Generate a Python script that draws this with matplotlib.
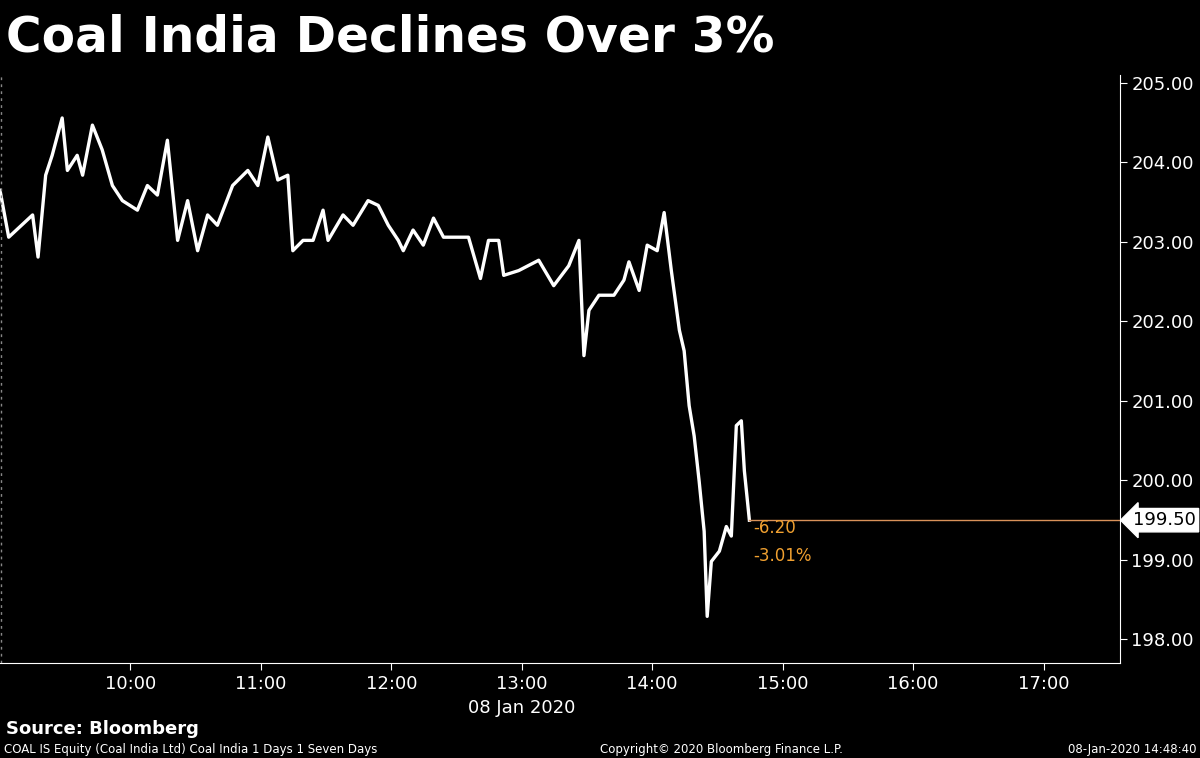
import matplotlib
matplotlib.use("Agg")
import matplotlib.pyplot as plt

minutes = [0,4,15,17.5,21,24,28.6,31,35.5,38,42.5,47,51.7,56.3,63.2,67.8,72.4,77,81.7,86.3,90.9,95.5,100,107,114,118.6,123.2,127.8,132.4,134.7,139.4,144,148.6,150.9,157.8,162.4,169.3,174,178.6,183.2,185.5,190,194.7,199.4,204,215.5,221,224.7,229.4,231.7,238.6,247.8,254.7,261.6,266.3,268.6,270.9,275.5,282.4,287,289.3,294,297.7,302.3,305.5,308.8,312.5,314.7,317,319.3,321.6,323.9,325.3,327.2,330.9,334.1,336.4,338.7,341,342.4,344.7]
prices = [203.65,203.06,203.34,202.81,203.84,204.09,204.56,203.90,204.09,203.84,204.47,204.16,203.71,203.52,203.40,203.71,203.59,204.28,203.02,203.52,202.89,203.34,203.21,203.71,203.90,203.71,204.32,203.78,203.84,202.89,203.02,203.02,203.40,203.02,203.34,203.21,203.52,203.46,203.21,203.02,202.89,203.15,202.96,203.30,203.06,203.06,202.54,203.02,203.02,202.58,202.64,202.77,202.45,202.70,203.02,201.57,202.14,202.33,202.33,202.52,202.75,202.39,202.96,202.89,203.37,202.64,201.89,201.63,200.94,200.56,199.99,199.36,198.29,198.98,199.11,199.42,199.30,200.69,200.75,200.12,199.50]
tick_minutes = [60,120,180,240,300,360,420,480]
tick_labels = ["10:00","11:00","12:00","13:00","14:00","15:00","16:00","17:00"]
y_ticks = [198,199,200,201,202,203,204,205]
last_price = 199.50
change = "-6.20"
change_pct = "-3.01%"

fig = plt.figure(figsize=(12,7.58), dpi=100, facecolor="black")
ax = fig.add_axes([0.0, 0.125, 0.933, 0.776], facecolor="black")
ax.plot(minutes, prices, color="white", lw=2.4, solid_joinstyle="round")
ax.set_xlim(0, 515)
ax.set_ylim(197.7, 205.1)
ax.plot([minutes[-1], 515], [last_price]*2, color="#d9925a", lw=1)
ax.text(minutes[-1]+2, last_price-0.1, change, color="#f0a030", fontsize=12, va="center")
ax.text(minutes[-1]+2, last_price-0.45, change_pct, color="#f0a030", fontsize=12, va="center")
ax.yaxis.tick_right()
ax.set_yticks(y_ticks)
ax.set_yticklabels([f"{v:.2f}" for v in y_ticks], color="white", fontsize=13)
ax.set_xticks(tick_minutes)
ax.set_xticklabels(tick_labels, color="white", fontsize=13)
ax.tick_params(colors="white", length=5, direction="out")
for s in ["top", "left"]:
    ax.spines[s].set_visible(False)
ax.spines["right"].set_color("white")
ax.spines["bottom"].set_color("white")
ax.axvline(0.5, color="#888888", lw=1, ls=(0,(2,3)))
ax.text(1.012, (last_price-197.7)/(205.1-197.7), f"{last_price:.2f}", transform=ax.transAxes,
        color="black", fontsize=13, va="center", ha="left",
        bbox=dict(boxstyle="larrow,pad=0.15", fc="white", ec="white"))
ax.text(240, -0.06, "08 Jan 2020", transform=ax.get_xaxis_transform(), color="white",
        fontsize=13, ha="center", va="top")

fig.text(0.005, 0.95, "Coal India Declines Over 3%", color="white", fontsize=35,
         fontweight="bold", va="center", ha="left")
fig.text(0.005, 0.038, "Source: Bloomberg", color="white", fontsize=13, fontweight="bold", va="center")
fig.text(0.003, 0.011, "COAL IS Equity (Coal India Ltd) Coal India 1 Days 1 Seven Days", color="white", fontsize=8.5, va="center")
fig.text(0.5, 0.011, "Copyright\u00a9 2020 Bloomberg Finance L.P.", color="white", fontsize=8.5, va="center")
fig.text(0.997, 0.011, "08-Jan-2020 14:48:40", color="white", fontsize=8.5, va="center", ha="right")
fig.savefig("out.png", dpi=100, facecolor="black")
